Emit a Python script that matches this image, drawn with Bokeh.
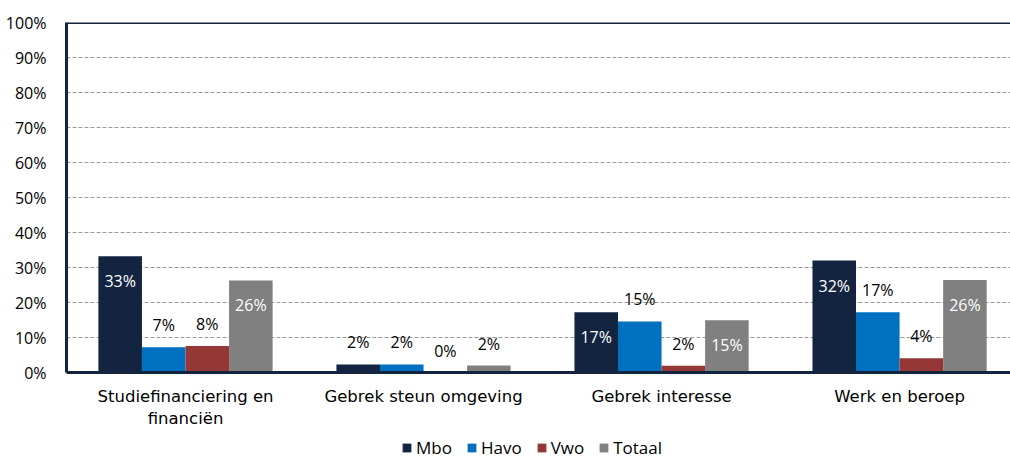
from bokeh.plotting import figure
from bokeh.layouts import column
from bokeh.models import (Range1d, FixedTicker, Span, Legend, LegendItem,
                          ColumnDataSource, PrintfTickFormatter)
from bokeh.core.properties import value
from bokeh.embed import file_html
from bokeh.resources import INLINE

categories = ["Studiefinanciering en\nfinanciën", "Gebrek steun omgeving",
              "Gebrek interesse", "Werk en beroep"]
series = ["Mbo", "Havo", "Vwo", "Totaal"]
mbo = [33.2, 2.3, 17.2, 32.0]
havo = [7.2, 2.3, 14.6, 17.2]
vwo = [7.6, 0.0, 1.9, 4.1]
totaal = [26.3, 2.0, 14.9, 26.4]
colors = ["#12243F", "#0070C0", "#953735", "#808080"]
y_ticks = [0, 10, 20, 30, 40, 50, 60, 70, 80, 90, 100]

FONT = "Open Sans"
CAT_FONT = "DejaVu Sans"
NAVY = "#12243F"
bar_w = 0.183
offsets = [-1.5 * bar_w, -0.5 * bar_w, 0.5 * bar_w, 1.5 * bar_w]
data = [mbo, havo, vwo, totaal]

p = figure(width=1010, height=432, output_backend="svg", toolbar_location=None,
           x_range=Range1d(0, 3.966), y_range=Range1d(0, 100),
           min_border_left=66, min_border_right=0, min_border_top=22,
           min_border_bottom=60)
p.outline_line_color = None
p.background_fill_color = "white"
p.border_fill_color = "white"

lx, ly, lt, lc, lo = [], [], [], [], []
for s, (name, vals, col, off) in enumerate(zip(series, data, colors, offsets)):
    xs = [i + 0.5 + off for i in range(len(categories))]
    src = ColumnDataSource(dict(x=xs, top=vals))
    p.vbar(x="x", top="top", width=bar_w, source=src, fill_color=col,
           line_color=None)
    for x, v in zip(xs, vals):
        inside = name in ("Mbo", "Totaal") and v >= 10
        lx.append(x)
        ly.append(v)
        lt.append(f"{round(v)}%")
        lc.append("white" if inside else "black")
        lo.append(25 if inside else -22)

lsrc = ColumnDataSource(dict(x=lx, y=ly, t=lt, c=lc, o=lo))
p.text(x="x", y="y", text="t", source=lsrc, text_color="c", y_offset="o",
       text_align="center", text_baseline="middle",
       text_font=value(FONT), text_font_size="16px")

# top border
p.add_layout(Span(location=100, dimension="width", line_color=NAVY, line_width=3))

# axes
p.xgrid.grid_line_color = None
p.ygrid.ticker = FixedTicker(ticks=y_ticks)
p.ygrid.grid_line_color = "#9a9a9a"
p.ygrid.grid_line_dash = "4 2"
p.ygrid.grid_line_width = 1

p.yaxis.ticker = FixedTicker(ticks=y_ticks)
p.yaxis.formatter = PrintfTickFormatter(format="%d%%")
p.yaxis.axis_line_color = NAVY
p.yaxis.axis_line_width = 3
p.yaxis.major_tick_line_color = None
p.yaxis.minor_tick_line_color = None
p.yaxis.major_label_standoff = 14
p.yaxis.major_label_text_font = FONT
p.yaxis.major_label_text_font_size = "16px"
p.yaxis.major_label_text_color = "black"

p.xaxis.ticker = FixedTicker(ticks=[i + 0.5 for i in range(len(categories))])
p.xaxis.major_label_overrides = {i + 0.5: c for i, c in enumerate(categories)}
p.xaxis.axis_line_color = NAVY
p.xaxis.axis_line_width = 3
p.xaxis.major_tick_line_color = None
p.xaxis.minor_tick_line_color = None
p.xaxis.major_label_standoff = 8
p.xaxis.major_label_text_font = CAT_FONT
p.xaxis.major_label_text_font_size = "16.5px"
p.xaxis.major_label_text_color = "black"

# legend strip (its swatch renderers have zero height, so only the legend shows)
lg = figure(width=1010, height=27, output_backend="svg", toolbar_location=None,
            x_range=Range1d(0, 1), y_range=Range1d(0, 1),
            x_axis_location=None, y_axis_location=None,
            min_border_left=0, min_border_right=0, min_border_top=0,
            min_border_bottom=0)
lg.outline_line_color = None
lg.grid.visible = False
items = []
for name, col in zip(series, colors):
    r = lg.vbar(x=[0.5], top=[0], bottom=[0], width=0.01, fill_color=col,
                line_color=None)
    items.append(LegendItem(label=name, renderers=[r]))
legend = Legend(items=items, orientation="horizontal", location=(335, 0),
                border_line_color=None, background_fill_alpha=0,
                glyph_width=11, glyph_height=11, label_standoff=4, spacing=14,
                label_text_font=FONT, label_text_font_size="17px",
                label_text_color="black", padding=0, margin=0)
lg.add_layout(legend, "center")

open("out.html", "w").write(file_html(column(p, lg, spacing=0), INLINE))
